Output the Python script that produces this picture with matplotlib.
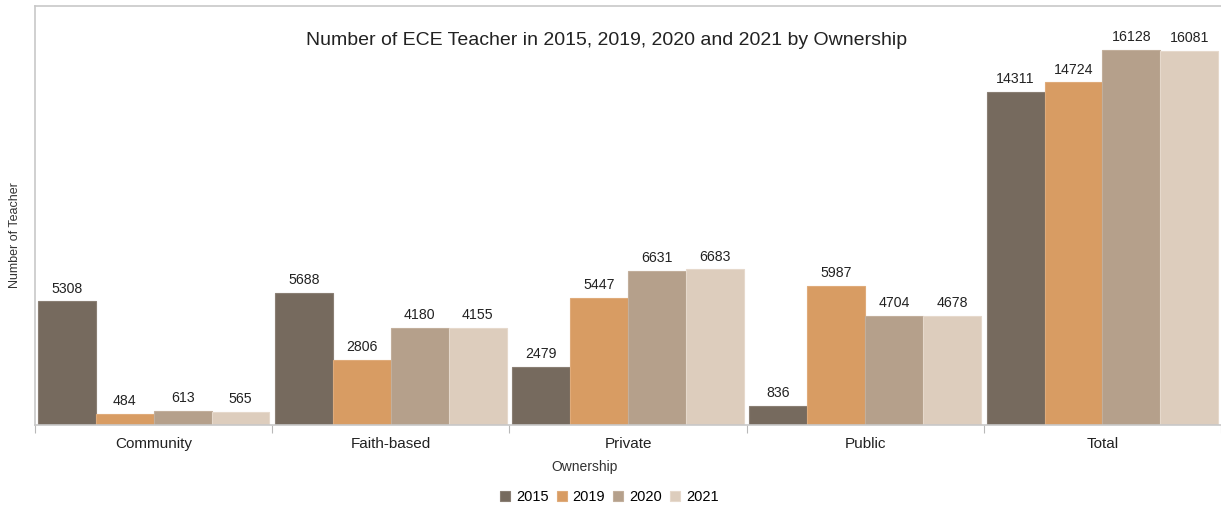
import numpy as np
import matplotlib.pyplot as plt

plt.rcParams['font.family'] = ['Liberation Sans', 'DejaVu Sans']

categories = ["Community", "Faith-based", "Private", "Public", "Total"]
years = ["2015", "2019", "2020", "2021"]
v2015 = [5308, 5688, 2479, 836, 14311]
v2019 = [484, 2806, 5447, 5987, 14724]
v2020 = [613, 4180, 6631, 4704, 16128]
v2021 = [565, 4155, 6683, 4678, 16081]
series = [v2015, v2019, v2020, v2021]
colors = ["#766a5e", "#d89c63", "#b5a08b", "#ddcdbd"]
edges = ["#8a7f74", "#dfab7a", "#c2af9c", "#e6d9cc"]

fig = plt.figure(figsize=(12.21, 5.08), dpi=100)
ax = fig.add_axes([0.0287, 0.1634, 0.9713, 0.8246])

x = np.arange(len(categories))
w = 0.244
for i, (vals, c, ec, yr) in enumerate(zip(series, colors, edges, years)):
    pos = x + (i - 1.5) * w
    bars = ax.bar(pos, vals, w, color=c, edgecolor=ec, linewidth=0.8, label=yr)
    for b, v in zip(bars, vals):
        ax.text(b.get_x() + b.get_width() / 2, v + 250, str(v),
                ha='center', va='bottom', fontsize=10.2, color='#222222')

ax.set_xlim(-0.5, 4.5)
ax.set_ylim(0, 18000)
ax.set_yticks([])
ax.set_xticks(x)
ax.set_xticklabels(categories, fontsize=11, color='#222222')
ax.tick_params(axis='x', which='major', length=0, pad=9)
ax.set_xticks(np.arange(-0.5, 4.6, 1), minor=True)
ax.tick_params(axis='x', which='minor', length=6, color='#b8b8b8', width=0.8)

for s in ['left', 'top', 'bottom']:
    ax.spines[s].set_color('#c8c8c8')
    ax.spines[s].set_linewidth(1.2)
ax.spines['right'].set_visible(False)

fig.text(0.497, 0.921, "Number of ECE Teacher in 2015, 2019, 2020 and 2021 by Ownership",
         ha='center', va='center', fontsize=14, color='#222222')
fig.text(0.479, 0.081, "Ownership", ha='center', va='center',
         fontsize=10, color='#333333')
fig.text(0.0125, 0.537, "Number of Teacher", ha='center', va='center',
         rotation=90, fontsize=9, color='#333333')

fig.legend(loc='center', bbox_to_anchor=(0.499, 0.022), ncol=4, frameon=False,
           fontsize=10.5, handlelength=0.7, handleheight=0.7, handletextpad=0.4,
           columnspacing=0.55)

fig.savefig("out.png", dpi=100)
